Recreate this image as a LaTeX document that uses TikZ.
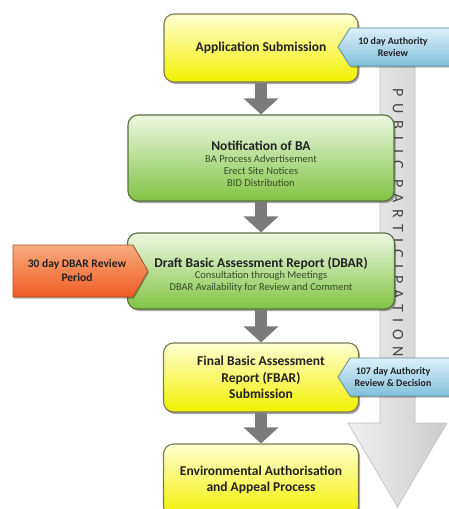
\documentclass[tikz,border=0pt]{standalone}
\usepackage{fontspec}
\setmainfont{Carlito}
\usetikzlibrary{shadows,arrows.meta}
\definecolor{yTop}{HTML}{FFFFD2}
\definecolor{yBot}{HTML}{F2F000}
\definecolor{yLine}{HTML}{7A7A55}
\definecolor{gTop}{HTML}{EEF7E2}
\definecolor{gBot}{HTML}{80C444}
\definecolor{gLine}{HTML}{58703C}
\definecolor{bTop}{HTML}{DDF0F8}
\definecolor{bBot}{HTML}{80C0DA}
\definecolor{bLine}{HTML}{5E8EA2}
\definecolor{oTop}{HTML}{F9AC80}
\definecolor{oBot}{HTML}{EE5A22}
\definecolor{oLine}{HTML}{A8502A}
\definecolor{txt}{HTML}{222222}
\definecolor{subtxt}{HTML}{3A4A28}
\definecolor{arrowgray}{HTML}{7B7B7B}
\newcommand{\ttl}{\bfseries\fontsize{13.5}{15}\selectfont\color{txt}}
\newcommand{\sbt}{\mdseries\fontsize{10.5}{13}\selectfont\color{subtxt}}
\begin{document}
\begin{tikzpicture}[x=1pt,y=-1pt,
  boxbase/.style={rounded corners=10pt, line width=1.1pt, align=center, text=txt,
    inner sep=2pt,
    drop shadow={shadow xshift=1.5pt, shadow yshift=-2pt, opacity=.35, fill=black}},
  ybox/.style={boxbase, draw=yLine, top color=yTop, bottom color=yBot},
  gbox/.style={boxbase, draw=gLine, top color=gTop, bottom color=gBot},
  titlef/.style={font=\bfseries\fontsize{13.5}{16.5}\selectfont},
  callb/.style={draw=bLine, line width=0.8pt, top color=bTop, bottom color=bBot,
    drop shadow={shadow xshift=1pt, shadow yshift=-1.5pt, opacity=.3, fill=black}},
  callo/.style={draw=oLine, line width=0.8pt, top color=oTop, bottom color=oBot,
    drop shadow={shadow xshift=1pt, shadow yshift=-1.5pt, opacity=.3, fill=black}},
  calltext/.style={align=center, text=txt, font=\bfseries\fontsize{10}{12.5}\selectfont, inner sep=0pt},
  blockarrow/.style={draw=arrowgray, line width=12pt, -{Triangle[width=34pt,length=16pt]}},
  bigarrow/.style={left color=black!6, right color=black!20, draw=black!25, line width=0.6pt}
]
\useasboundingbox (0,0) rectangle (449,509);
\clip (0,0) rectangle (449,509);

% public participation arrow
\path[bigarrow] (380,60) -- (415,60) -- (415,423) -- (447,423) -- (397.5,507)
  -- (348,423) -- (380,423) -- cycle;
\node[rotate=-90, text=black!72, font=\fontsize{16}{16}\selectfont\addfontfeature{LetterSpace=42}]
  (pp) at (398,223) {PUBLIC PARTICIPATION};

% main boxes
\node[ybox, minimum width=194pt, minimum height=68pt, titlef] (app) at (261,48)
  {Application Submission};
\node[gbox, minimum width=266pt, minimum height=86pt] (notif) at (261,158)
  {\ttl\rule{0pt}{21pt}Notification of BA\\[-0.5pt]
   \sbt BA Process Advertisement\\\sbt Erect Site Notices\\\sbt BID Distribution};
\node[gbox, minimum width=267pt, minimum height=76pt] (dbar) at (261,271)
  {\ttl\rule{0pt}{18pt}Draft Basic Assessment Report (DBAR)\\[-1pt]
   \sbt Consultation through Meetings\\\sbt DBAR Availability for Review and Comment};
\node[ybox, minimum width=195pt, minimum height=69pt, titlef] (fbar) at (261,377.5)
  {Final Basic Assessment\\Report (FBAR)\\Submission};
\node[ybox, minimum width=195pt, minimum height=72pt, titlef] (env) at (261,480)
  {Environmental Authorisation\\and Appeal Process};

% block arrows
\draw[blockarrow] (app.south) -- (notif.north);
\draw[blockarrow] (notif.south) -- (dbar.north);
\draw[blockarrow] (dbar.south) -- (fbar.north);
\draw[blockarrow] (fbar.south) -- (env.north);

% callouts
\path[callb] (338,47) -- (350,28) -- (462,28) -- (462,66) -- (350,66) -- cycle;
\node[calltext] (rev10) at (393,47) {10 day Authority\\Review};
\path[callb] (338,377) -- (350,358) -- (462,358) -- (462,396) -- (350,396) -- cycle;
\node[calltext] (rev107) at (393,377) {107 day Authority\\Review \& Decision};
\path[callo] (13,245) -- (133,245) -- (148,271) -- (133,297) -- (13,297) -- cycle;
\node[calltext, font=\bfseries\fontsize{11.5}{14}\selectfont] (dbar30) at (77,271)
  {30 day DBAR Review\\Period};
\end{tikzpicture}
\end{document}
